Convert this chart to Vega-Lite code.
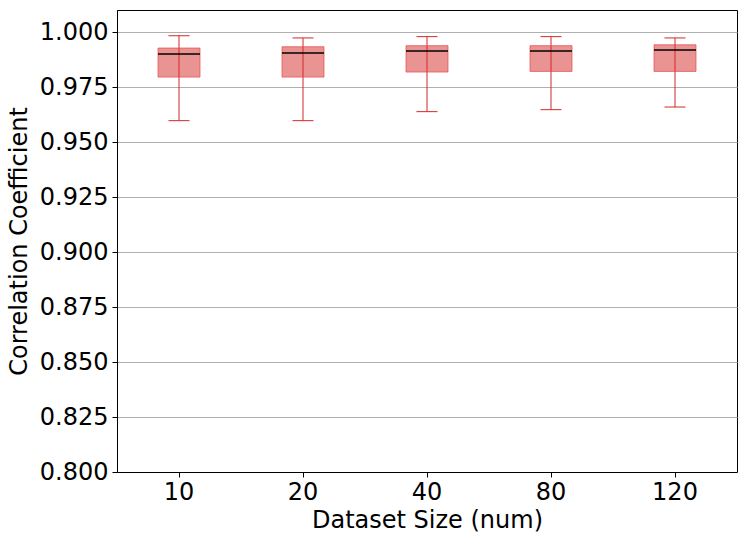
{
  "$schema": "https://vega.github.io/schema/vega-lite/v6.json",
  "width": 620,
  "height": 462,
  "autosize": {"type": "none"},
  "padding": {"left": 117, "top": 10, "right": 10, "bottom": 73},
  "background": "white",
  "config": {
    "font": "DejaVu Sans",
    "view": {"stroke": "black", "strokeWidth": 1},
    "axis": {
      "labelFont": "DejaVu Sans",
      "titleFont": "DejaVu Sans",
      "labelFontSize": 24,
      "titleFontSize": 24,
      "titleFontWeight": "normal",
      "labelColor": "black",
      "titleColor": "black",
      "domainColor": "black",
      "tickColor": "black",
      "tickSize": 5
    }
  },
  "data": {
    "values": [
      {"size": "10", "lower": 0.9597, "q1": 0.9795, "median": 0.9900, "q3": 0.9927, "upper": 0.9983},
      {"size": "20", "lower": 0.9597, "q1": 0.9795, "median": 0.9904, "q3": 0.9933, "upper": 0.9973},
      {"size": "40", "lower": 0.9638, "q1": 0.9818, "median": 0.9914, "q3": 0.9938, "upper": 0.9979},
      {"size": "80", "lower": 0.9647, "q1": 0.9821, "median": 0.9914, "q3": 0.9938, "upper": 0.9979},
      {"size": "120", "lower": 0.9659, "q1": 0.9821, "median": 0.9918, "q3": 0.9942, "upper": 0.9973}
    ]
  },
  "encoding": {
    "x": {
      "field": "size",
      "type": "ordinal",
      "sort": ["10", "20", "40", "80", "120"],
      "scale": {"paddingInner": 0, "paddingOuter": 0},
      "axis": {"title": "Dataset Size (num)", "labelAngle": 0, "labelPadding": 3, "titlePadding": 4, "grid": false}
    }
  },
  "layer": [
    {
      "mark": {"type": "rule", "color": "#d62728", "strokeWidth": 1},
      "encoding": {
        "y": {
          "field": "lower",
          "type": "quantitative",
          "scale": {"domain": [0.8, 1.01], "nice": false, "zero": false},
          "axis": {
            "title": "Correlation Coefficient",
            "values": [0.8, 0.825, 0.85, 0.875, 0.9, 0.925, 0.95, 0.975, 1.0],
            "format": ".3f",
            "grid": true,
            "gridColor": "#b0b0b0",
            "gridWidth": 1,
            "labelPadding": 4,
            "titlePadding": 8
          }
        },
        "y2": {"field": "upper"}
      }
    },
    {
      "mark": {"type": "bar", "size": 42, "fill": "#d62728", "fillOpacity": 0.5, "stroke": "#e8474a", "strokeOpacity": 0.7, "strokeWidth": 1},
      "encoding": {
        "y": {"field": "q1", "type": "quantitative"},
        "y2": {"field": "q3"}
      }
    },
    {
      "mark": {"type": "tick", "size": 42, "thickness": 1.5, "color": "black", "opacity": 1},
      "encoding": {"y": {"field": "median", "type": "quantitative"}}
    },
    {
      "mark": {"type": "tick", "size": 21, "thickness": 1, "color": "#d62728", "opacity": 1},
      "encoding": {"y": {"field": "lower", "type": "quantitative"}}
    },
    {
      "mark": {"type": "tick", "size": 21, "thickness": 1, "color": "#d62728", "opacity": 1},
      "encoding": {"y": {"field": "upper", "type": "quantitative"}}
    }
  ]
}
